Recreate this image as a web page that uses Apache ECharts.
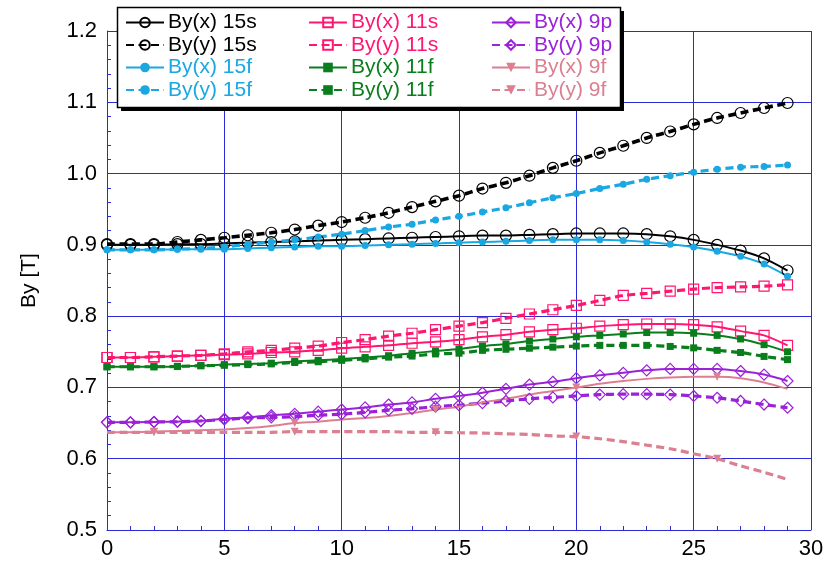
<!DOCTYPE html>
<html><head><meta charset="utf-8">
<script src="https://cdn.jsdelivr.net/npm/echarts@6/dist/echarts.min.js"></script>
<style>html,body{margin:0;padding:0;background:#fff}#c{width:827px;height:567px}</style>
</head><body><div id="c"></div>
<script>
const xValues = [0,1,2,3,4,5,6,7,8,9,10,11,12,13,14,15,16,17,18,19,20,21,22,23,24,25,26,27,28,29];
const xTicks = [0,5,10,15,20,25,30];
const yTicks = [0.5,0.6,0.7,0.8,0.9,1.0,1.1,1.2];

const byx15s = [0.900,0.900,0.900,0.901,0.901,0.902,0.903,0.904,0.905,0.906,0.907,0.908,0.909,0.910,0.911,0.912,0.913,0.913,0.914,0.915,0.916,0.916,0.916,0.915,0.912,0.907,0.900,0.892,0.881,0.864];
const byy15s = [0.901,0.901,0.901,0.904,0.907,0.910,0.9135,0.917,0.9215,0.927,0.932,0.938,0.945,0.953,0.961,0.969,0.979,0.987,0.997,1.008,1.018,1.029,1.039,1.050,1.059,1.069,1.078,1.085,1.092,1.099];
const byx15f = [0.893,0.893,0.893,0.894,0.894,0.894,0.895,0.896,0.897,0.898,0.898,0.899,0.900,0.901,0.902,0.903,0.904,0.905,0.906,0.907,0.907,0.907,0.906,0.904,0.901,0.897,0.891,0.884,0.873,0.856];
const byy15f = [0.893,0.893,0.893,0.894,0.895,0.897,0.901,0.904,0.907,0.911,0.915,0.920,0.925,0.929,0.935,0.940,0.946,0.952,0.959,0.966,0.972,0.979,0.985,0.992,0.997,1.002,1.006,1.009,1.010,1.012];
const byx11s = [0.742,0.742,0.743,0.744,0.745,0.746,0.747,0.749,0.750,0.752,0.755,0.757,0.759,0.762,0.764,0.767,0.771,0.774,0.778,0.781,0.783,0.786,0.788,0.789,0.789,0.788,0.785,0.779,0.773,0.759];
const byy11s = [0.742,0.742,0.743,0.744,0.745,0.747,0.750,0.752,0.755,0.758,0.763,0.767,0.772,0.776,0.781,0.786,0.791,0.797,0.803,0.809,0.815,0.822,0.829,0.832,0.835,0.838,0.840,0.841,0.842,0.844];
const byx11f = [0.729,0.729,0.729,0.7295,0.7305,0.732,0.733,0.734,0.7365,0.738,0.740,0.742,0.7445,0.748,0.751,0.754,0.758,0.761,0.765,0.768,0.771,0.773,0.775,0.777,0.777,0.776,0.773,0.768,0.760,0.750];
const byy11f = [0.729,0.729,0.729,0.7295,0.7305,0.731,0.732,0.733,0.735,0.736,0.738,0.740,0.7425,0.744,0.747,0.748,0.752,0.7535,0.755,0.7565,0.758,0.759,0.759,0.759,0.7575,0.7555,0.752,0.749,0.7435,0.739];
const byx9p = [0.651,0.651,0.6515,0.652,0.653,0.656,0.658,0.661,0.663,0.666,0.669,0.672,0.676,0.679,0.684,0.688,0.6925,0.698,0.704,0.708,0.713,0.717,0.7205,0.724,0.726,0.726,0.726,0.723,0.718,0.709];
const byy9p = [0.651,0.651,0.6515,0.652,0.653,0.655,0.657,0.658,0.659,0.661,0.6625,0.665,0.668,0.670,0.673,0.675,0.678,0.681,0.684,0.686,0.688,0.690,0.6905,0.6905,0.690,0.688,0.6855,0.681,0.676,0.6715];
const byx9f = [0.637,0.637,0.638,0.639,0.640,0.641,0.643,0.646,0.650,0.652,0.655,0.657,0.660,0.664,0.669,0.673,0.679,0.684,0.690,0.695,0.700,0.705,0.709,0.712,0.714,0.715,0.715,0.713,0.707,0.698];
const byy9f = [0.637,0.637,0.637,0.637,0.637,0.637,0.637,0.637,0.638,0.638,0.638,0.638,0.638,0.637,0.637,0.6365,0.636,0.635,0.634,0.632,0.631,0.628,0.624,0.619,0.614,0.607,0.600,0.590,0.581,0.571];

const FONT = 'Liberation Sans';
const C15s = '#000000', C15f = '#1aa7e2', C11s = '#ff1670', C11f = '#0a7d1c', C9p = '#9a22d8', C9f = '#dc7f90';

function pairs(arr){ return xValues.map((x,i)=>[x,arr[i]]); }

function mk(name, arr, color, dashed, symbol, open, size, opts){
  const s = {
    name, type:'line', data: pairs(arr), smooth: 0.25,
    symbol, symbolSize: size, showSymbol: true,
    lineStyle: {color, width: dashed ? 3.2 : 2, type: dashed ? [8,4.5] : 'solid'},
    itemStyle: open ? {color:'rgba(255,255,255,0)', borderColor: color, borderWidth: 1.2}
                    : {color, borderColor: color, borderWidth: 0},
    emphasis: {disabled: true},
    animation: false, z: 2
  };
  return Object.assign(s, opts || {});
}
const sparse = (v,p)=> (p.dataIndex % 6 === 2 ? 8 : 0);

const series = [
  mk('By(x) 15s', byx15s, C15s, false, 'circle', true, 11),
  mk('By(y) 15s', byy15s, C15s, true, 'circle', true, 11, {lineStyle:{color:C15s, width:3.6, type:[8,4.5]}}),
  mk('By(x) 15f', byx15f, C15f, false, 'circle', false, 7),
  mk('By(y) 15f', byy15f, C15f, true, 'circle', false, 7),
  mk('By(x) 11s', byx11s, C11s, false, 'rect', true, 10),
  mk('By(y) 11s', byy11s, C11s, true, 'rect', true, 10),
  mk('By(x) 11f', byx11f, C11f, false, 'rect', false, 7),
  mk('By(y) 11f', byy11f, C11f, true, 'rect', false, 7),
  mk('By(x) 9p', byx9p, C9p, false, 'diamond', true, 11),
  mk('By(y) 9p', byy9p, C9p, true, 'diamond', true, 11),
  mk('By(x) 9f', byx9f, C9f, false, 'triangle', false, sparse, {symbolRotate:180}),
  mk('By(y) 9f', byy9f, C9f, true, 'triangle', false, sparse, {symbolRotate:180})
];

function legendCol(left, names, colors){
  return {
    orient:'vertical', left, top: 12, padding: 0, itemGap: 1.5,
    itemWidth: 38, itemHeight: 12, z: 10, selectedMode: false,
    textStyle: {fontFamily: FONT, fontSize: 21, padding:[0,0,0,-1]},
    data: names.map((n,i)=>({name:n, textStyle:{color: colors[i]}}))
  };
}

const gridColor = '#2b2bd6';
const option = {
  animation: false,
  backgroundColor: '#fff',
  grid: {left:107, right:16, top:31, bottom:37},
  xAxis: {
    type:'value', min: xTicks[0], max: xTicks[xTicks.length-1], interval: 5,
    axisLine:{show:true, lineStyle:{color:gridColor, width:1}},
    axisTick:{show:true, inside:true, length:5, lineStyle:{color:gridColor}},
    minorTick:{show:true, splitNumber:5, length:4, lineStyle:{color:gridColor}},
    splitLine:{show:true, lineStyle:{color:gridColor, width:1}},
    axisLabel:{color:'#000', fontFamily:FONT, fontSize:22, margin:8}
  },
  yAxis: {
    type:'value', min: yTicks[0], max: yTicks[yTicks.length-1], interval: 0.1,
    name:'By [T]', nameLocation:'middle', nameGap:67, nameRotate:90,
    nameTextStyle:{color:'#000', fontFamily:FONT, fontSize:21},
    axisLine:{show:true, lineStyle:{color:gridColor, width:1}},
    axisTick:{show:true, inside:true, length:5, lineStyle:{color:gridColor}},
    minorTick:{show:true, splitNumber:5, length:4, lineStyle:{color:gridColor}},
    splitLine:{show:true, lineStyle:{color:gridColor, width:1}},
    axisLabel:{color:'#000', fontFamily:FONT, fontSize:22, margin:10, formatter: v => v.toFixed(1)}
  },
  graphic: [
    {type:'rect', z: 5, shape:{x:121, y:11, width:503, height:100}, style:{fill:'#000'}},
    {type:'rect', z: 6, shape:{x:117.5, y:7.5, width:503, height:100}, style:{fill:'#fff', stroke:'#000', lineWidth:1.5}}
  ],
  legend: [
    legendCol(125, ['By(x) 15s','By(y) 15s','By(x) 15f','By(y) 15f'], [C15s,C15s,C15f,C15f]),
    legendCol(308, ['By(x) 11s','By(y) 11s','By(x) 11f','By(y) 11f'], [C11s,C11s,C11f,C11f]),
    legendCol(491, ['By(x) 9p','By(y) 9p','By(x) 9f','By(y) 9f'], [C9p,C9p,C9f,C9f])
  ],
  series
};
const chart = echarts.init(document.getElementById('c'), null, {renderer:'canvas'});
chart.setOption(option);
</script></body></html>
